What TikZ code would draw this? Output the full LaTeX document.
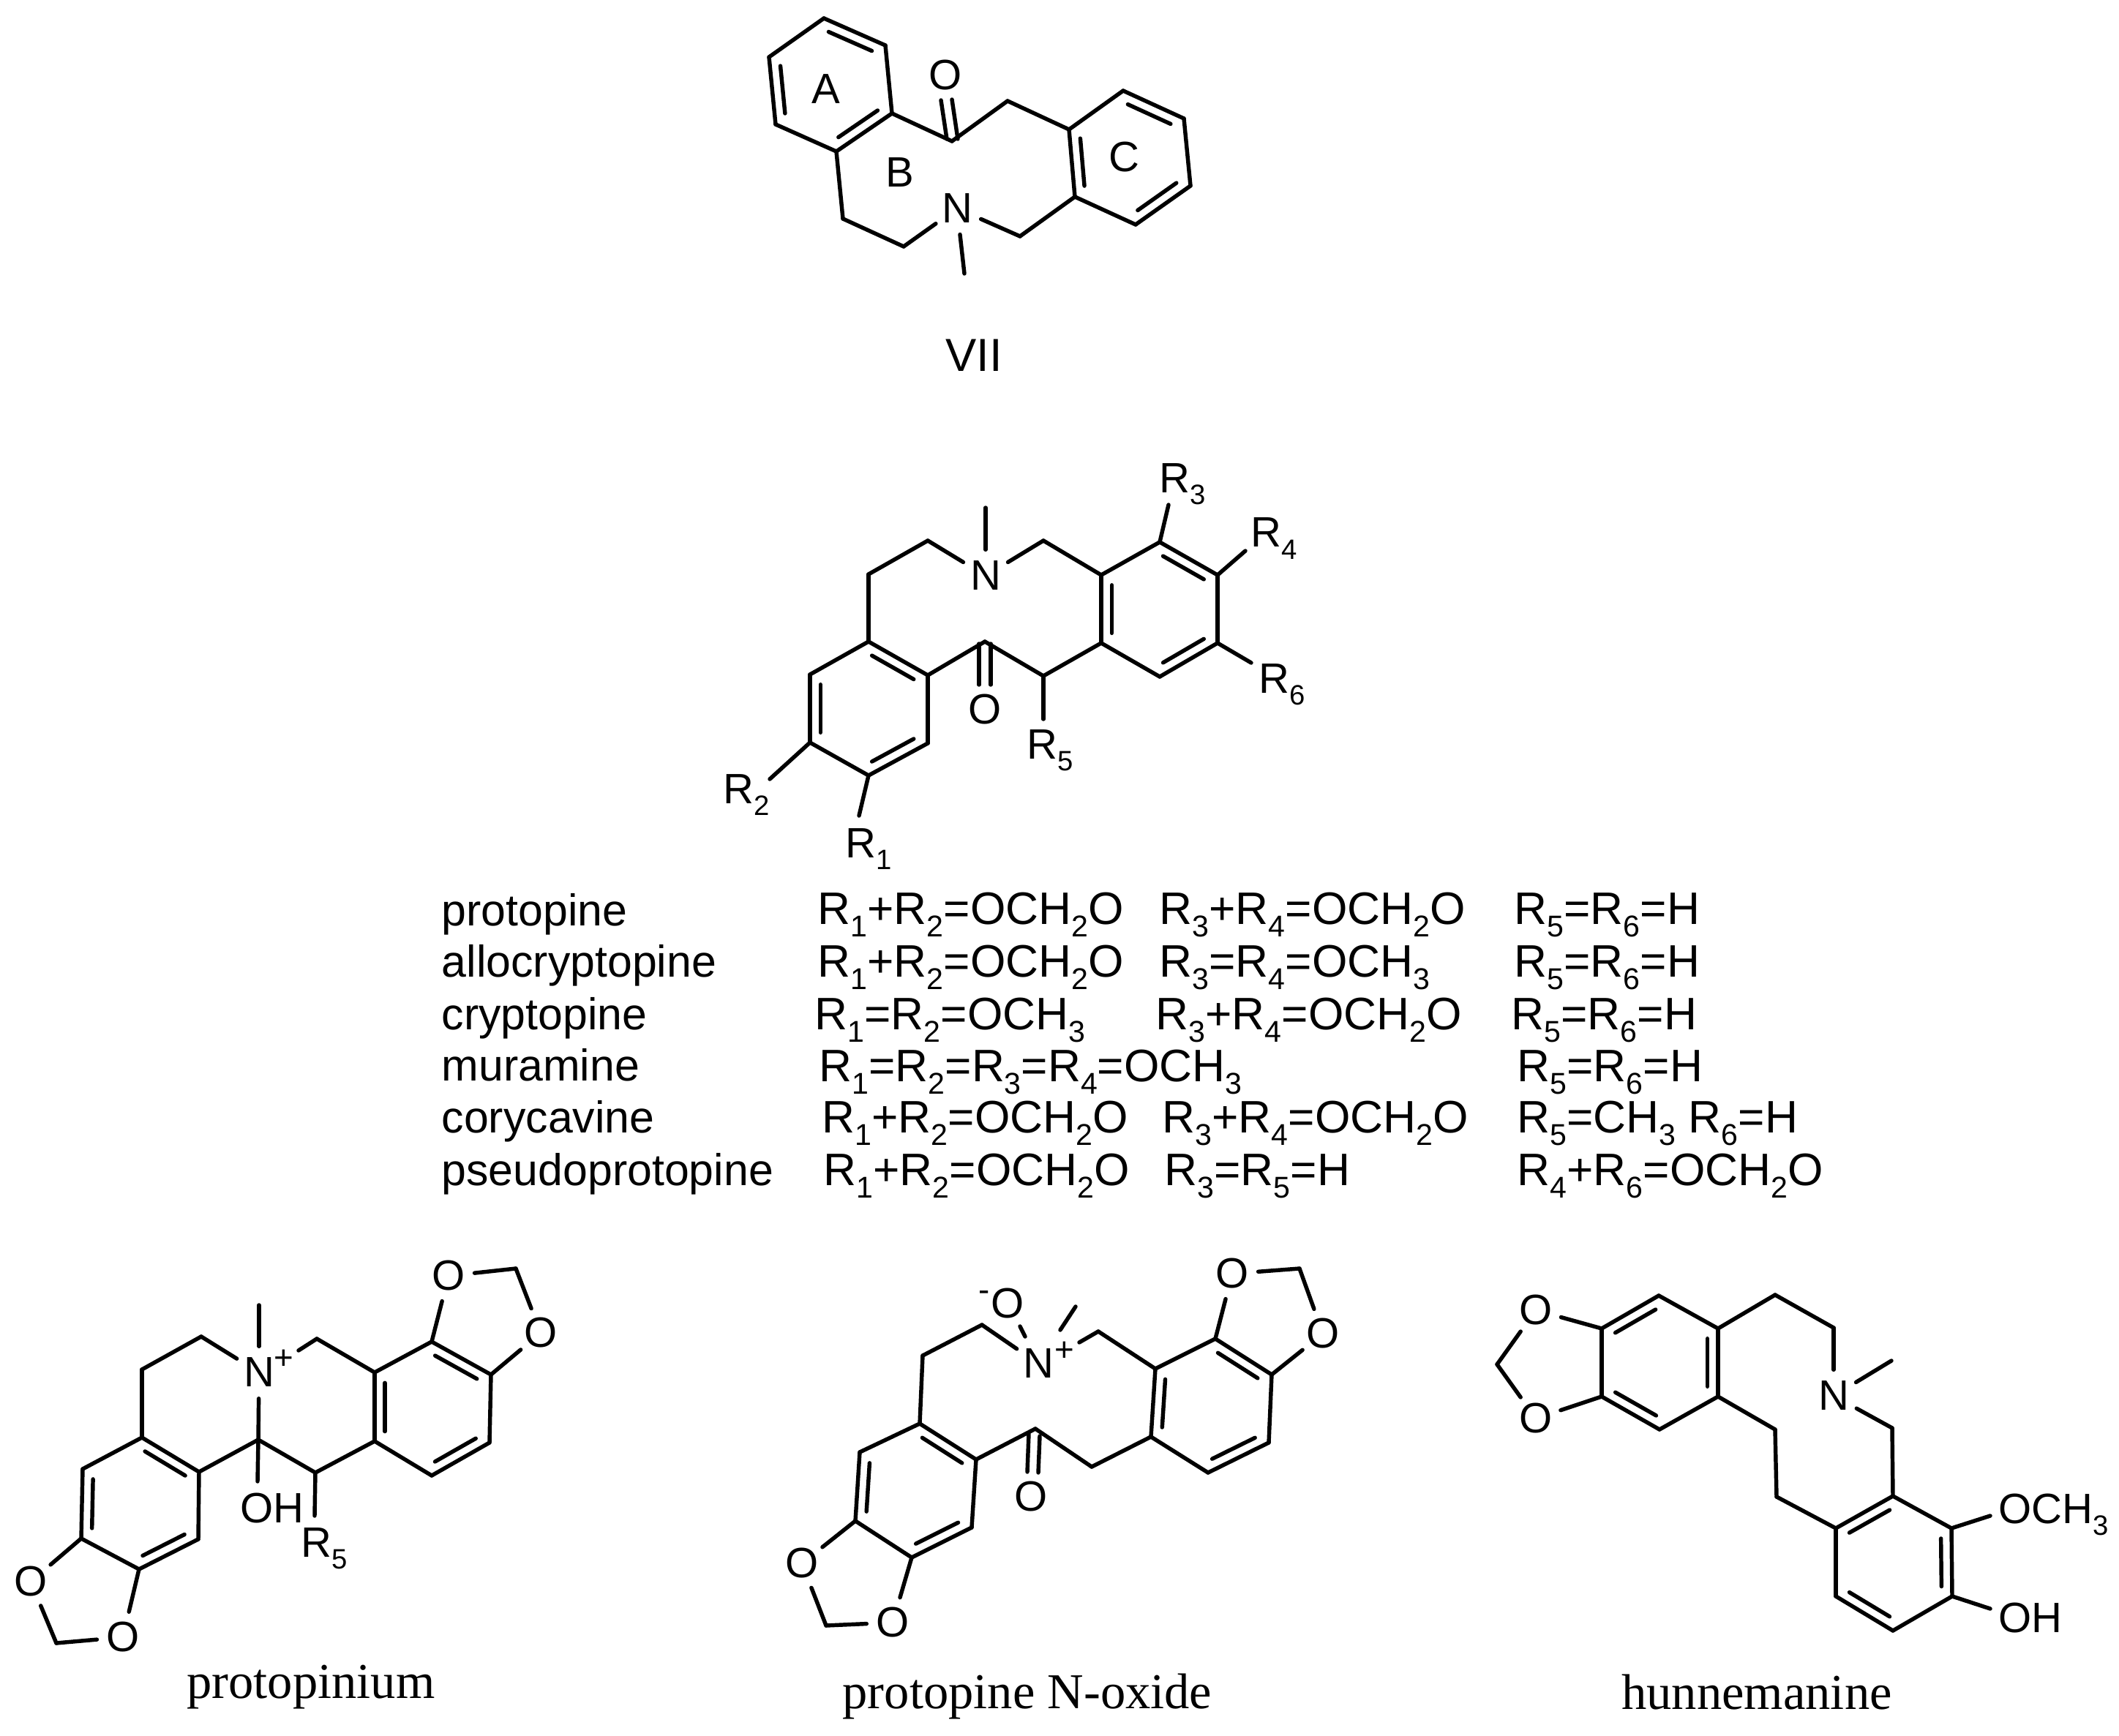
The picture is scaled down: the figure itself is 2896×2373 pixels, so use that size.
\documentclass[tikz,border=0pt]{standalone}
\usepackage{fontspec}
\setmainfont{Liberation Sans}
\newfontfamily\capfont{Liberation Serif}
\usetikzlibrary{calc}
\newcommand\sbs[1]{\raisebox{-0.28em}{\scalebox{0.66}{#1}}}
\newcommand\Rg[1]{R\sbs{#1}}
\newcommand\bond[2]{\draw[bondline] (#1) -- (#2);}
\newcommand\dbond[3]{\draw[bondline] (#1) -- (#2);
  \draw[bondline] ($($(#1)!0.07!(#2)$)!0.18!(#3)$) -- ($($(#2)!0.07!(#1)$)!0.18!(#3)$);}
\tikzset{
  bondline/.style={line width=1.55pt,line join=miter,line cap=round},
  atom/.style={circle,inner sep=0pt,minimum size=0.70cm,font=\fontsize{16.5}{18}\selectfont},
  lab/.style={inner sep=0pt,anchor=base west,font=\fontsize{16.5}{18}\selectfont},
  chg/.style={inner sep=0pt,font=\fontsize{13}{14}\selectfont},
  tab/.style={inner sep=0pt,anchor=base west,font=\fontsize{17.3}{19}\selectfont},
  frm/.style={inner sep=0pt,anchor=base west,font=\fontsize{17.7}{19}\selectfont},
  capt/.style={inner sep=0pt,anchor=base,font=\capfont\fontsize{19.5}{21}\selectfont},
}
\begin{document}
\begin{tikzpicture}[x=0.01cm,y=-0.01cm]
\useasboundingbox (0,0) rectangle (2896,2373);
%% ---------- VII ----------
\coordinate (a1) at (1126,25); \coordinate (a2) at (1210,62); \coordinate (a3) at (1219,155);
\coordinate (a4) at (1143,207); \coordinate (a5) at (1060,170); \coordinate (a6) at (1051,78);
\coordinate (ac) at ($(a1)!0.5!(a4)$);
\coordinate (c1) at (1461,177); \coordinate (c2) at (1535,124); \coordinate (c3) at (1618,162);
\coordinate (c4) at (1627,254); \coordinate (c5) at (1552,307); \coordinate (c6) at (1469,269);
\coordinate (cc) at ($(c1)!0.5!(c4)$);
\coordinate (vco) at (1301,193); \coordinate (vch) at (1377,138);
\coordinate (vb1) at (1152,299); \coordinate (vb2) at (1235,337); \coordinate (vb3) at (1394,323);
\coordinate (vme) at (1318,374);
\node[atom] (vN) at (1308,285) {N};
\node[atom] (vO) at (1292,103) {O};
\dbond{a1}{a2}{ac} \bond{a2}{a3} \dbond{a3}{a4}{ac} \bond{a4}{a5} \dbond{a5}{a6}{ac} \bond{a6}{a1}
\dbond{c1}{c6}{cc} \bond{c1}{c2} \dbond{c2}{c3}{cc} \bond{c3}{c4} \dbond{c4}{c5}{cc} \bond{c5}{c6}
\bond{a3}{vco} \bond{vco}{vch} \bond{vch}{c1} \bond{a4}{vb1} \bond{vb1}{vb2} \bond{vb2}{vN}
\bond{vN}{vb3} \bond{vb3}{c6} \bond{vN}{vme}
\draw[bondline] ($(vco)+(-7,-3)$) -- ($(vO)+(-6,34)$);
\draw[bondline] ($(vco)+(8,-3)$) -- ($(vO)+(9,33)$);
\node[font=\fontsize{16.5}{18}\selectfont] (lA) at (1129,122) {A};
\node[font=\fontsize{16.5}{18}\selectfont] (lB) at (1230,236) {B};
\node[font=\fontsize{16.5}{18}\selectfont] (lC) at (1536,215) {C};
\node[font=\fontsize{18}{20}\selectfont] (lVII) at (1331,486) {VII};
%% ---------- general structure ----------
\coordinate (g1) at (1187,877); \coordinate (g2) at (1268,923); \coordinate (g3) at (1268,1016);
\coordinate (g4) at (1187,1060); \coordinate (g5) at (1107,1015); \coordinate (g6) at (1107,922);
\coordinate (gc) at ($(g1)!0.5!(g4)$);
\coordinate (h1) at (1505,786); \coordinate (h2) at (1585,741); \coordinate (h3) at (1664,786);
\coordinate (h4) at (1664,879); \coordinate (h5) at (1585,925); \coordinate (h6) at (1505,879);
\coordinate (hc) at ($(h2)!0.5!(h5)$);
\coordinate (gb1) at (1187,785); \coordinate (gb2) at (1268,739); \coordinate (gb3) at (1426,739);
\coordinate (gco) at (1346,877); \coordinate (gch) at (1426,924);
\node[atom] (gN) at (1347,787) {N};
\node[atom] (gO) at (1346,970) {O};
\coordinate (gme) at (1347,694);
\coordinate (e1) at (1174,1115); \coordinate (e2) at (1052,1065); \coordinate (e3) at (1597,690);
\coordinate (e4) at (1702,753); \coordinate (e5) at (1426,983); \coordinate (e6) at (1710,906);
\dbond{g1}{g2}{gc} \bond{g2}{g3} \dbond{g3}{g4}{gc} \bond{g4}{g5} \dbond{g5}{g6}{gc} \bond{g6}{g1}
\dbond{h1}{h6}{hc} \bond{h1}{h2} \dbond{h2}{h3}{hc} \bond{h3}{h4} \dbond{h4}{h5}{hc} \bond{h5}{h6}
\bond{g1}{gb1} \bond{gb1}{gb2} \bond{gb2}{gN} \bond{gN}{gb3} \bond{gb3}{h1} \bond{gN}{gme}
\bond{g2}{gco} \bond{gco}{gch} \bond{gch}{h6}
\draw[bondline] ($(gco)+(-8,3)$) -- ($(gO)+(-8,-34)$);
\draw[bondline] ($(gco)+(8,3)$) -- ($(gO)+(8,-34)$);
\bond{g4}{e1} \bond{g5}{e2} \bond{h2}{e3} \bond{h3}{e4} \bond{gch}{e5} \bond{h4}{e6}
\node[lab] (lR1) at (1155,1172) {\Rg{1}};
\node[lab] (lR2) at (988,1098) {\Rg{2}};
\node[lab] (lR3) at (1584,673) {\Rg{3}};
\node[lab] (lR4) at (1709,748) {\Rg{4}};
\node[lab] (lR5) at (1403,1037) {\Rg{5}};
\node[lab] (lR6) at (1720,947) {\Rg{6}};
%% ---------- table ----------
\node[tab] (n1) at (603,1265) {protopine};
\node[tab] (n2) at (603,1335) {allocryptopine};
\node[tab] (n3) at (603,1407) {cryptopine};
\node[tab] (n4) at (603,1477) {muramine};
\node[tab] (n5) at (603,1548) {corycavine};
\node[tab] (n6) at (603,1620) {pseudoprotopine};
\node[frm] (t11) at (1117,1263) {\Rg{1}+\Rg{2}=OCH\sbs{2}O};
\node[frm] (t12) at (1584,1263) {\Rg{3}+\Rg{4}=OCH\sbs{2}O};
\node[frm] (t13) at (2069,1263) {\Rg{5}=\Rg{6}=H};
\node[frm] (t21) at (1117,1335) {\Rg{1}+\Rg{2}=OCH\sbs{2}O};
\node[frm] (t22) at (1584,1335) {\Rg{3}=\Rg{4}=OCH\sbs{3}};
\node[frm] (t23) at (2069,1335) {\Rg{5}=\Rg{6}=H};
\node[frm] (t31) at (1113,1407) {\Rg{1}=\Rg{2}=OCH\sbs{3}};
\node[frm] (t32) at (1579,1407) {\Rg{3}+\Rg{4}=OCH\sbs{2}O};
\node[frm] (t33) at (2065,1407) {\Rg{5}=\Rg{6}=H};
\node[frm] (t41) at (1119,1478) {\Rg{1}=\Rg{2}=\Rg{3}=\Rg{4}=OCH\sbs{3}};
\node[frm] (t43) at (2073,1478) {\Rg{5}=\Rg{6}=H};
\node[frm] (t51) at (1123,1548) {\Rg{1}+\Rg{2}=OCH\sbs{2}O};
\node[frm] (t52) at (1588,1548) {\Rg{3}+\Rg{4}=OCH\sbs{2}O};
\node[frm] (t53) at (2073,1548) {\Rg{5}=CH\sbs{3} \Rg{6}=H};
\node[frm] (t61) at (1125,1620) {\Rg{1}+\Rg{2}=OCH\sbs{2}O};
\node[frm] (t62) at (1591,1620) {\Rg{3}=\Rg{5}=H};
\node[frm] (t63) at (2073,1620) {\Rg{4}+\Rg{6}=OCH\sbs{2}O};
%% ---------- protopinium ----------
\coordinate (p1) at (194,1965); \coordinate (p2) at (272,2012); \coordinate (p3) at (271,2104);
\coordinate (p4) at (190,2145); \coordinate (p5) at (111,2103); \coordinate (p6) at (113,2008);
\coordinate (pc) at ($(p1)!0.5!(p4)$);
\coordinate (q1) at (512,1876); \coordinate (q2) at (590,1834); \coordinate (q3) at (671,1879);
\coordinate (q4) at (669,1972); \coordinate (q5) at (590,2017); \coordinate (q6) at (512,1970);
\coordinate (qc) at ($(q2)!0.5!(q5)$);
\node[atom] (pN) at (354,1876) {N};
\node[chg] (pPlus) at (388,1858) {+};
\node[atom] (pO1) at (42,2162) {O}; \node[atom] (pO2) at (168,2238) {O};
\node[atom] (pO3) at (613,1744) {O}; \node[atom] (pO4) at (739,1822) {O};
\coordinate (pm1) at (77,2246); \coordinate (pm2) at (705,1734);
\coordinate (pb1) at (194,1872); \coordinate (pb2) at (275,1827); \coordinate (pb3) at (433,1830);
\coordinate (pb3e) at (408,1846);
\coordinate (ps) at (353,1968); \coordinate (pch) at (431,2013);
\coordinate (pme) at (354,1784); \coordinate (pohe) at (352,2025); \coordinate (pr5e) at (430,2072);
\dbond{p1}{p2}{pc} \bond{p2}{p3} \dbond{p3}{p4}{pc} \bond{p4}{p5} \dbond{p5}{p6}{pc} \bond{p6}{p1}
\dbond{q1}{q6}{qc} \bond{q1}{q2} \dbond{q2}{q3}{qc} \bond{q3}{q4} \dbond{q4}{q5}{qc} \bond{q5}{q6}
\bond{p5}{pO1} \bond{pO1}{pm1} \bond{pm1}{pO2} \bond{pO2}{p4}
\bond{q2}{pO3} \bond{pO3}{pm2} \bond{pm2}{pO4} \bond{pO4}{q3}
\bond{p1}{pb1} \bond{pb1}{pb2} \bond{pb2}{pN} \bond{pN}{pme} \bond{pN}{ps}
\bond{pb3e}{pb3} \bond{pb3}{q1} \bond{p2}{ps} \bond{ps}{pch} \bond{pch}{q6}
\bond{ps}{pohe} \bond{pch}{pr5e}
\node[lab] (pOH) at (328,2081) {OH};
\node[lab] (pR5) at (411,2128) {\Rg{5}};
\node[capt] (capA) at (425,2321) {protopinium};
%% ---------- protopine N-oxide ----------
\coordinate (s1) at (1257,1946); \coordinate (s2) at (1334,1995); \coordinate (s3) at (1328,2088);
\coordinate (s4) at (1246,2129); \coordinate (s5) at (1169,2079); \coordinate (s6) at (1175,1985);
\coordinate (sc) at ($(s1)!0.5!(s4)$);
\coordinate (u1) at (1579,1871); \coordinate (u2) at (1661,1830); \coordinate (u3) at (1738,1879);
\coordinate (u4) at (1734,1972); \coordinate (u5) at (1651,2013); \coordinate (u6) at (1573,1964);
\coordinate (uc) at ($(u2)!0.5!(u5)$);
\node[atom] (oN) at (1419,1864) {N};
\node[chg] (oPlus) at (1455,1847) {+};
\node[atom] (oO) at (1377,1782) {O};
\node[chg] (oMinus) at (1345,1772) {-};
\node[atom] (oO1) at (1096,2137) {O}; \node[atom] (oO2) at (1220,2218) {O};
\node[atom] (oO3) at (1684,1741) {O}; \node[atom] (oO4) at (1808,1823) {O};
\node[atom] (oO5) at (1409,2046) {O};
\coordinate (om1) at (1129,2222); \coordinate (om2) at (1776,1734);
\coordinate (ob1) at (1261,1853); \coordinate (ob2) at (1342,1811); \coordinate (ob3) at (1501,1820);
\coordinate (ob3e) at (1475,1835); \coordinate (obO1) at (1401,1827); \coordinate (obO2) at (1394,1813);
\coordinate (obm1) at (1449,1818); \coordinate (obm2) at (1470,1786);
\coordinate (oco) at (1415,1953); \coordinate (och) at (1492,2005);
\dbond{s1}{s2}{sc} \bond{s2}{s3} \dbond{s3}{s4}{sc} \bond{s4}{s5} \dbond{s5}{s6}{sc} \bond{s6}{s1}
\dbond{u1}{u6}{uc} \bond{u1}{u2} \dbond{u2}{u3}{uc} \bond{u3}{u4} \dbond{u4}{u5}{uc} \bond{u5}{u6}
\bond{s5}{oO1} \bond{oO1}{om1} \bond{om1}{oO2} \bond{oO2}{s4}
\bond{u2}{oO3} \bond{oO3}{om2} \bond{om2}{oO4} \bond{oO4}{u3}
\bond{s1}{ob1} \bond{ob1}{ob2} \bond{ob2}{oN} \bond{obO1}{obO2} \bond{obm1}{obm2}
\bond{ob3e}{ob3} \bond{ob3}{u1} \bond{s2}{oco} \bond{oco}{och} \bond{och}{u6}
\draw[bondline] ($(oco)+(-9,7)$) -- ($(oO5)+(-5,-34)$);
\draw[bondline] ($(oco)+(6,10)$) -- ($(oO5)+(10,-33)$);
\node[capt] (capB) at (1404,2335) {protopine N-oxide};
%% ---------- hunnemanine ----------
\coordinate (w1) at (2267,1771); \coordinate (w2) at (2348,1816); \coordinate (w3) at (2348,1909);
\coordinate (w4) at (2268,1954); \coordinate (w5) at (2189,1909); \coordinate (w6) at (2189,1816);
\coordinate (wc) at ($(w1)!0.5!(w4)$);
\coordinate (v1) at (2509,2089); \coordinate (v2) at (2587,2045); \coordinate (v3) at (2667,2089);
\coordinate (v4) at (2668,2182); \coordinate (v5) at (2587,2229); \coordinate (v6) at (2509,2182);
\coordinate (vc) at ($(v2)!0.5!(v5)$);
\node[atom] (hN) at (2506,1908) {N};
\node[atom] (hO1) at (2099,1791) {O}; \node[atom] (hO2) at (2099,1939) {O};
\coordinate (hm) at (2046,1865);
\coordinate (hb1) at (2426,1770); \coordinate (hb2) at (2506,1815);
\coordinate (hb3) at (2426,1954); \coordinate (hb4) at (2428,2046);
\coordinate (hb5) at (2586,1952); \coordinate (hme) at (2585,1860);
\coordinate (hoe1) at (2720,2072); \coordinate (hoe2) at (2720,2199);
\dbond{w1}{w6}{wc} \bond{w1}{w2} \dbond{w2}{w3}{wc} \bond{w3}{w4} \dbond{w4}{w5}{wc} \bond{w5}{w6}
\dbond{v1}{v2}{vc} \bond{v2}{v3} \dbond{v3}{v4}{vc} \bond{v4}{v5} \dbond{v5}{v6}{vc} \bond{v6}{v1}
\bond{w6}{hO1} \bond{hO1}{hm} \bond{hm}{hO2} \bond{hO2}{w5}
\bond{w2}{hb1} \bond{hb1}{hb2} \bond{hb2}{hN} \bond{hN}{hme} \bond{hN}{hb5} \bond{hb5}{v2}
\bond{w3}{hb3} \bond{hb3}{hb4} \bond{hb4}{v1}
\bond{v3}{hoe1} \bond{v4}{hoe2}
\node[lab] (hOCH) at (2731,2082) {OCH\sbs{3}};
\node[lab] (hOH) at (2731,2231) {OH};
\node[capt] (capC) at (2401,2336) {hunnemanine};
\end{tikzpicture}
\end{document}
